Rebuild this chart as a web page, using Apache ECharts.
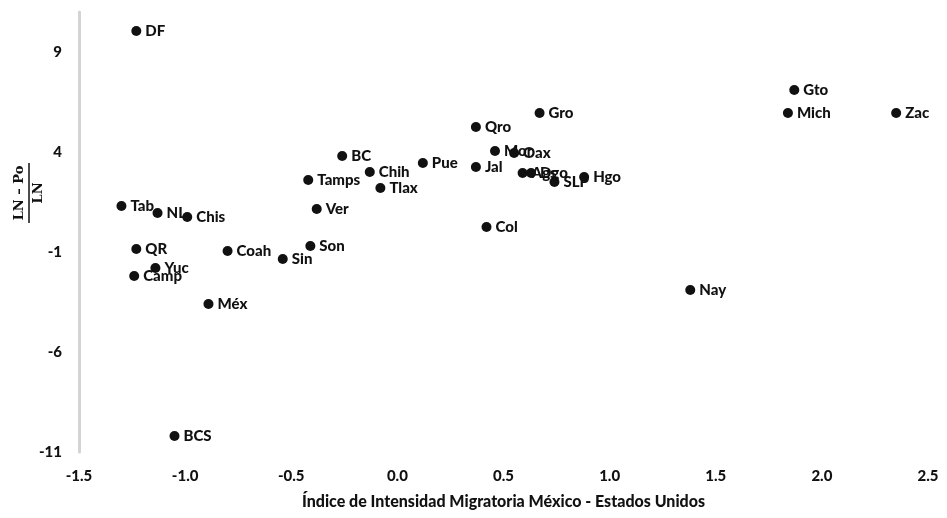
<!DOCTYPE html>
<html lang="es">
<head>
    <meta charset="UTF-8">
    <title>Intensidad migratoria</title>
    <style>
        html, body { margin: 0; padding: 0; background: #fff; }
    </style>
</head>
<body>
    <div id="main" style="width: 947px;height:518px;"></div>
    <script src="https://cdn.jsdelivr.net/npm/echarts@6/dist/echarts.min.js"></script>
    <script>
    // estados y sus valores (x: indice de intensidad migratoria, y: (LN - Po)/LN)
    var states = ['DF', 'Gto', 'Mich', 'Zac', 'Gro', 'Qro', 'Mor', 'Oax', 'BC', 'Pue',
                  'Jal', 'Chih', 'Tamps', 'Tlax', 'Ags', 'Dgo', 'SLP', 'Hgo', 'Ver', 'Col',
                  'Tab', 'NL', 'Chis', 'QR', 'Coah', 'Son', 'Sin', 'Yuc', 'Camp', 'Méx',
                  'Nay', 'BCS'];
    var xValues = [-1.23, 1.87, 1.84, 2.35, 0.67, 0.37, 0.46, 0.55, -0.26, 0.12,
                   0.37, -0.13, -0.42, -0.08, 0.59, 0.63, 0.74, 0.88, -0.38, 0.42,
                   -1.30, -1.13, -0.99, -1.23, -0.80, -0.41, -0.54, -1.14, -1.24, -0.89,
                   1.38, -1.05];
    var yValues = [10.05, 7.1, 5.95, 5.95, 5.95, 5.25, 4.05, 3.95, 3.8, 3.45,
                   3.25, 3.0, 2.6, 2.2, 2.95, 2.95, 2.5, 2.75, 1.15, 0.25,
                   1.3, 0.95, 0.75, -0.85, -0.95, -0.7, -1.35, -1.8, -2.2, -3.6,
                   -2.9, -10.2];
    var yTicks = [-11, -6, -1, 4, 9];

    var points = [];
    for (var i = 0; i < states.length; i++) {
        points.push([xValues[i], yValues[i], states[i]]);
    }

    var myChart = echarts.init(document.getElementById('main'));
    var option = {
        backgroundColor: '#fff',
        textStyle: { fontFamily: 'Lato' },
        grid: {
            left: 79,
            right: 19,
            top: 12,
            bottom: 66
        },
        xAxis: {
            type: 'value',
            min: -1.5,
            max: 2.5,
            interval: 0.5,
            name: 'Índice de Intensidad Migratoria México - Estados Unidos',
            nameLocation: 'middle',
            nameGap: 42,
            nameTextStyle: { fontSize: 16, fontWeight: 900, color: '#111' },
            axisLine: { show: false },
            axisTick: { show: false },
            splitLine: { show: false },
            axisLabel: {
                margin: 17,
                fontSize: 15,
                fontWeight: 900,
                color: '#111',
                formatter: function (v) { return v.toFixed(1); }
            }
        },
        yAxis: {
            type: 'value',
            min: yTicks[0],
            max: 11,
            interval: 5,
            axisLine: { show: true, onZero: false, lineStyle: { color: '#d4d4d4', width: 3 } },
            axisTick: { show: false },
            splitLine: { show: false },
            axisLabel: {
                margin: 17,
                fontSize: 15,
                fontWeight: 900,
                color: '#111',
                showMaxLabel: false
            }
        },
        graphic: [{
            type: 'group',
            x: 29,
            y: 193,
            rotation: Math.PI / 2,
            children: [
                {
                    type: 'text',
                    x: 0, y: -3,
                    style: {
                        text: 'LN – Po',
                        font: 'bold 13px "DejaVu Serif"',
                        fill: '#111',
                        align: 'center',
                        verticalAlign: 'bottom'
                    }
                },
                {
                    type: 'line',
                    shape: { x1: -30, y1: 0, x2: 30, y2: 0 },
                    style: { stroke: '#111', lineWidth: 1.5 }
                },
                {
                    type: 'text',
                    x: 0, y: 3,
                    style: {
                        text: 'LN',
                        font: 'bold 13px "DejaVu Serif"',
                        fill: '#111',
                        align: 'center',
                        verticalAlign: 'top'
                    }
                }
            ]
        }],
        series: [{
            type: 'scatter',
            data: points,
            symbolSize: 10,
            itemStyle: { color: '#111', opacity: 1 },
            label: {
                show: true,
                position: 'right',
                distance: 4,
                fontSize: 15,
                fontWeight: 900,
                color: '#111',
                formatter: function (p) { return p.data[2]; }
            }
        }]
    };
    myChart.setOption(option);
    </script>
</body>
</html>
